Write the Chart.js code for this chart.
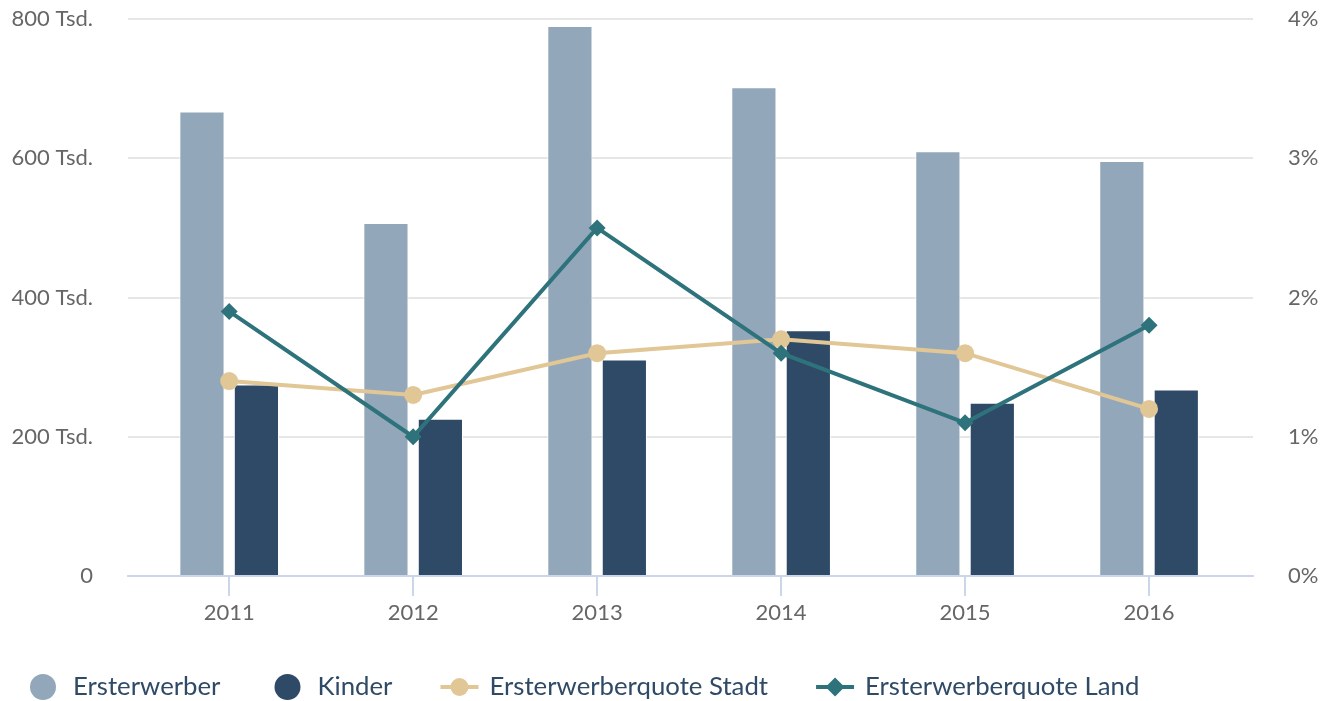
<!DOCTYPE html>
<html lang="de">
<head>
    <meta charset="UTF-8">
    <title>Ersterwerber und Kinder 2011 - 2016</title>
    <script src="https://cdn.jsdelivr.net/npm/chart.js@4.4.1/dist/chart.umd.min.js"></script>
    <style>
        html, body { margin: 0; padding: 0; background: #ffffff; }
    </style>
</head>
<body>
<canvas id="myChart" width="1336" height="701"></canvas>

<script>
    // Daten (Tsd. bzw. Prozent)
    const years = ['2011', '2012', '2013', '2014', '2015', '2016'];
    const ersterwerber = [667, 507, 790, 702, 610, 596];
    const kinder = [275, 226, 311, 353, 249, 268];
    const quoteStadt = [1.4, 1.3, 1.6, 1.7, 1.6, 1.2];
    const quoteLand = [1.9, 1.0, 2.5, 1.6, 1.1, 1.8];
    const leftTicks = [0, 200, 400, 600, 800];
    const rightTicks = [0, 1, 2, 3, 4];

    const FONT = 'Lato, "Source Sans Pro", sans-serif';
    const TICK_COLOR = '#666666';
    const LEGEND_COLOR = '#2f4a66';

    // linear x axis, so each year sits on its index
    function toPoints(values) {
        return values.map((v, i) => ({x: i, y: v}));
    }

    // legend under the chart: round dots for bars, line + marker for lines
    const bottomLegend = {
        id: 'bottomLegend',
        afterDraw(chart) {
            const ctx = chart.ctx;
            const y = 687;
            let x = 23;
            ctx.save();
            ctx.font = '25.75px ' + FONT;
            ctx.textBaseline = 'middle';
            chart.data.datasets.forEach(ds => {
                const cx = x + 20;
                if (ds.type === 'line') {
                    ctx.strokeStyle = ds.borderColor;
                    ctx.lineWidth = 4;
                    ctx.beginPath();
                    ctx.moveTo(x + 1, y);
                    ctx.lineTo(x + 39, y);
                    ctx.stroke();
                    ctx.fillStyle = ds.borderColor;
                    ctx.beginPath();
                    if (ds.pointStyle === 'rectRot') {
                        const r = ds.pointRadius + 1;
                        ctx.moveTo(cx, y - r);
                        ctx.lineTo(cx + r, y);
                        ctx.lineTo(cx, y + r);
                        ctx.lineTo(cx - r, y);
                        ctx.closePath();
                    } else {
                        ctx.arc(cx, y, ds.pointRadius, 0, Math.PI * 2);
                    }
                    ctx.fill();
                } else {
                    ctx.fillStyle = ds.backgroundColor;
                    ctx.beginPath();
                    ctx.arc(cx, y, 13, 0, Math.PI * 2);
                    ctx.fill();
                }
                ctx.fillStyle = LEGEND_COLOR;
                ctx.fillText(ds.label, x + 50, y);
                x += 50 + ctx.measureText(ds.label).width + 47;
            });
            ctx.restore();
        }
    };

    // fixed axis sizes, no extra label padding above/below the plot
    function fixWidth(w) {
        return scale => {
            scale.width = w;
            scale.paddingTop = 0;
            scale.paddingBottom = 0;
        };
    }

    const ctx = document.getElementById('myChart');

    const myChart = new Chart(ctx, {
        data: {
            datasets: [
                {
                    type: 'bar',
                    label: 'Ersterwerber',
                    data: toPoints(ersterwerber),
                    yAxisID: 'y',
                    backgroundColor: '#93a7ba',
                    borderColor: '#ffffff',
                    borderWidth: 1,
                    categoryPercentage: 0.592,
                    barPercentage: 0.83,
                    order: 3
                },
                {
                    type: 'bar',
                    label: 'Kinder',
                    data: toPoints(kinder),
                    yAxisID: 'y',
                    backgroundColor: '#2e4a66',
                    borderColor: '#ffffff',
                    borderWidth: 1,
                    categoryPercentage: 0.592,
                    barPercentage: 0.83,
                    order: 4
                },
                {
                    type: 'line',
                    label: 'Ersterwerberquote Stadt',
                    data: toPoints(quoteStadt),
                    yAxisID: 'y1',
                    borderColor: '#e1c696',
                    backgroundColor: '#e1c696',
                    borderWidth: 4,
                    pointStyle: 'circle',
                    pointRadius: 9,
                    pointBorderWidth: 0,
                    pointBackgroundColor: '#e1c696',
                    tension: 0,
                    order: 2
                },
                {
                    type: 'line',
                    label: 'Ersterwerberquote Land',
                    data: toPoints(quoteLand),
                    yAxisID: 'y1',
                    borderColor: '#2e737b',
                    backgroundColor: '#2e737b',
                    borderWidth: 4,
                    pointStyle: 'rectRot',
                    pointRadius: 8.5,
                    pointBorderWidth: 0,
                    pointBackgroundColor: '#2e737b',
                    tension: 0,
                    order: 1
                }
            ]
        },
        options: {
            responsive: false,
            devicePixelRatio: 1,
            animation: false,
            layout: {
                padding: {top: 19, right: 0, bottom: 0, left: 0}
            },
            plugins: {
                legend: {display: false},
                tooltip: {enabled: false}
            },
            scales: {
                x: {
                    type: 'linear',
                    min: -0.55,
                    max: 5.565,
                    offset: false,
                    afterBuildTicks: scale => {
                        scale.ticks = years.map((_, i) => ({value: i}));
                    },
                    afterFit: scale => {
                        scale.height = 125;
                    },
                    ticks: {
                        callback: v => years[v],
                        autoSkip: false,
                        maxRotation: 0,
                        padding: 4,
                        color: TICK_COLOR,
                        font: {family: FONT, size: 22}
                    },
                    grid: {
                        offset: false,
                        drawOnChartArea: false,
                        drawTicks: true,
                        tickLength: 20,
                        tickColor: '#ccd6eb',
                        lineWidth: 2
                    },
                    border: {color: '#ccd6eb', width: 2}
                },
                y: {
                    position: 'left',
                    min: 0,
                    max: 800,
                    afterBuildTicks: scale => {
                        scale.ticks = leftTicks.map(v => ({value: v}));
                    },
                    afterFit: fixWidth(128),
                    ticks: {
                        callback: v => v === 0 ? '0' : v + ' Tsd.',
                        padding: 35,
                        color: TICK_COLOR,
                        font: {family: FONT, size: 22}
                    },
                    grid: {
                        drawTicks: false,
                        lineWidth: 2,
                        color: c => c.tick && c.tick.value === 0 ? 'rgba(0,0,0,0)' : '#e6e6e6'
                    },
                    border: {display: false}
                },
                y1: {
                    position: 'right',
                    min: 0,
                    max: 4,
                    afterBuildTicks: scale => {
                        scale.ticks = rightTicks.map(v => ({value: v}));
                    },
                    afterFit: fixWidth(83),
                    ticks: {
                        callback: v => v + '%',
                        padding: 35,
                        color: TICK_COLOR,
                        font: {family: FONT, size: 22}
                    },
                    grid: {drawOnChartArea: false, drawTicks: false},
                    border: {display: false}
                }
            }
        },
        plugins: [bottomLegend]
    });
</script>
</body>
</html>
